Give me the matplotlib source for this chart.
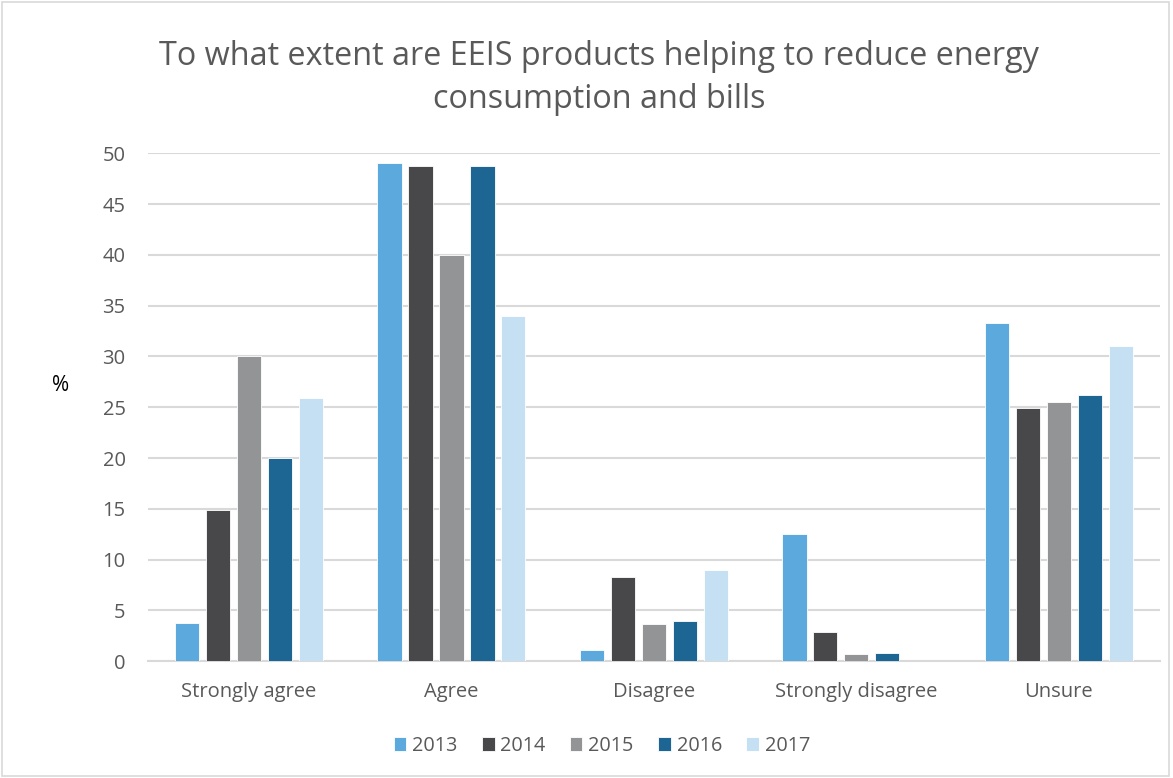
import numpy as np
import matplotlib
matplotlib.use("Agg")
import matplotlib.pyplot as plt
from matplotlib.patches import Rectangle

# ----------------------------------------------------------
# DATA
# ----------------------------------------------------------
categories = ["Strongly agree", "Agree", "Disagree", "Strongly disagree", "Unsure"]
years = ["2013", "2014", "2015", "2016", "2017"]
v2013 = [3.8, 49.0, 1.1, 12.5, 33.3]
v2014 = [14.9, 48.7, 8.3, 2.9, 24.9]
v2015 = [30.0, 40.0, 3.7, 0.7, 25.5]
v2016 = [20.0, 48.7, 4.0, 0.8, 26.2]
v2017 = [25.9, 34.0, 9.0, 0.0, 31.0]
series = [v2013, v2014, v2015, v2016, v2017]
colors = ["#5BA9DD", "#48484A", "#939496", "#1D6592", "#C5E0F2"]

plt.rcParams["font.family"] = ["Open Sans", "DejaVu Sans"]
text_col = "#595959"

# ----------------------------------------------------------
# PLOT
# ----------------------------------------------------------
fig = plt.figure(figsize=(11.73, 7.78), dpi=100)
ax = fig.add_axes([0.126, 0.150, 0.863, 0.653])

x = np.arange(len(categories))
step = 0.153
width = 0.119
for i, (vals, col, yr) in enumerate(zip(series, colors, years)):
    ax.bar(x + (i - 2) * step, vals, width, color=col, label=yr,
           edgecolor="white", linewidth=0.6, zorder=3)

ax.set_xlim(-0.5, len(categories) - 0.5)
ax.set_ylim(0, 50)
ax.set_yticks(range(0, 51, 5))
ax.set_xticks(x)
ax.set_xticklabels(categories)
ax.tick_params(axis="both", length=0, labelsize=14.5, colors=text_col)
ax.tick_params(axis="y", pad=16)
ax.tick_params(axis="x", pad=15)
ax.grid(axis="y", color="#D9D9D9", linewidth=1.5, zorder=0)
for s in ["top", "right", "left"]:
    ax.spines[s].set_visible(False)
ax.spines["bottom"].set_color("#D9D9D9")
ax.spines["bottom"].set_linewidth(1.5)

fig.text(0.052, 0.505, "%", fontsize=15, color="black", ha="center", va="center")

fig.text(0.511, 0.928, "To what extent are EEIS products helping to reduce energy",
         fontsize=23.3, color=text_col, ha="center", va="center")
fig.text(0.511, 0.872, "consumption and bills",
         fontsize=23.3, color=text_col, ha="center", va="center")

fig.legend(loc="center", bbox_to_anchor=(0.513, 0.041), ncol=5, frameon=False,
           fontsize=14.3, labelcolor=text_col, handlelength=0.65, handleheight=0.65,
           handletextpad=0.3, columnspacing=1.2)

# outer frame
fig.patches.append(Rectangle((0.002, 0.003), 0.995, 0.994, transform=fig.transFigure,
                             fill=False, edgecolor="#D9D9D9", linewidth=1.2))

fig.savefig("out.png", dpi=100)
